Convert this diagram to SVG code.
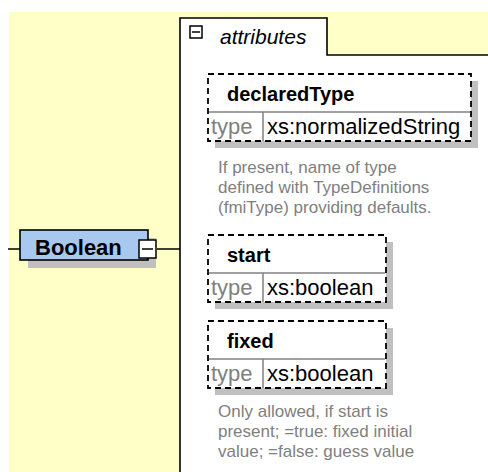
<svg xmlns="http://www.w3.org/2000/svg" width="488" height="472" viewBox="0 0 488 472">
<style>
.bg{fill:#ffffc8}
.cont{fill:#ffffff;stroke:#000;stroke-width:1.6}
.shadow{fill:#c0c0c0}
.attr{fill:#ffffff;stroke:#000;stroke-width:1.8;stroke-dasharray:6 4}
.sep{stroke:#808080;stroke-width:1.5;fill:none}
.title{font-family:"Liberation Sans",Arial,sans-serif;font-size:20px;font-weight:bold;fill:#000}
.eltitle{font-family:"Liberation Sans",Arial,sans-serif;font-size:22px;font-weight:bold;fill:#000}
.val{font-family:"Liberation Sans",Arial,sans-serif;font-size:22px;fill:#000}
.typ{font-family:"Liberation Sans",Arial,sans-serif;font-size:22px;fill:#808080}
.desc{font-family:"Liberation Sans",Arial,sans-serif;font-size:17px;fill:#808080}
.tab{font-family:"Liberation Sans",Arial,sans-serif;font-size:21px;font-style:italic;fill:#000}
.el{fill:#a8c8f0;stroke:#000;stroke-width:1.6}
.box{fill:#fff;stroke:#000;stroke-width:1.5}
.line{stroke:#000;stroke-width:1.5;fill:none}
</style>
<rect class="bg" x="9" y="12" width="479" height="460"/>
<g id="attributes">
<path class="cont" d="M180,473 L180,18 L327,18 L327,55 L490,55 L490,473 Z"/>
<rect class="box" x="190" y="26" width="12" height="12"/>
<line class="line" x1="192" y1="32" x2="200" y2="32"/>
<text class="tab" x="220" y="44">attributes</text>
</g>
<g id="connectors">
<line class="line" x1="8" y1="249" x2="20" y2="249"/>
<line class="line" x1="157" y1="249" x2="180" y2="249"/>
</g>
<g id="Boolean">
<rect class="shadow" x="28" y="238" width="128" height="30"/>
<rect class="el" x="20" y="230" width="128" height="30"/>
<text class="eltitle" x="35" y="255">Boolean</text>
<rect class="box" x="139" y="240" width="17" height="18"/>
<line class="line" x1="142" y1="249" x2="153" y2="249"/>
</g>
<g id="declaredType">
<rect class="shadow" x="215" y="81" width="263" height="67"/>
<rect class="attr" x="208" y="74" width="263" height="67"/>
<line class="sep" x1="209" y1="112" x2="470" y2="112"/>
<line class="sep" x1="263" y1="112" x2="263" y2="141"/>
<text class="title" x="227" y="101">declaredType</text>
<text class="typ" x="211" y="134">type</text>
<text class="val" x="267" y="134">xs:normalizedString</text>
<text class="desc" x="218" y="173">If present, name of type</text>
<text class="desc" x="218" y="193">defined with TypeDefinitions</text>
<text class="desc" x="218" y="213">(fmiType) providing defaults.</text>
</g>
<g id="start">
<rect class="shadow" x="215" y="242" width="178" height="67"/>
<rect class="attr" x="208" y="235" width="178" height="67"/>
<line class="sep" x1="209" y1="273" x2="385" y2="273"/>
<line class="sep" x1="263" y1="273" x2="263" y2="302"/>
<text class="title" x="227" y="262">start</text>
<text class="typ" x="211" y="295">type</text>
<text class="val" x="267" y="295">xs:boolean</text>
</g>
<g id="fixed">
<rect class="shadow" x="215" y="328" width="178" height="67"/>
<rect class="attr" x="208" y="321" width="178" height="67"/>
<line class="sep" x1="209" y1="359" x2="385" y2="359"/>
<line class="sep" x1="263" y1="359" x2="263" y2="388"/>
<text class="title" x="227" y="348">fixed</text>
<text class="typ" x="211" y="381">type</text>
<text class="val" x="267" y="381">xs:boolean</text>
<text class="desc" x="218" y="417">Only allowed, if start is</text>
<text class="desc" x="218" y="437">present; =true: fixed initial</text>
<text class="desc" x="218" y="457">value; =false: guess value</text>
</g>
</svg>
